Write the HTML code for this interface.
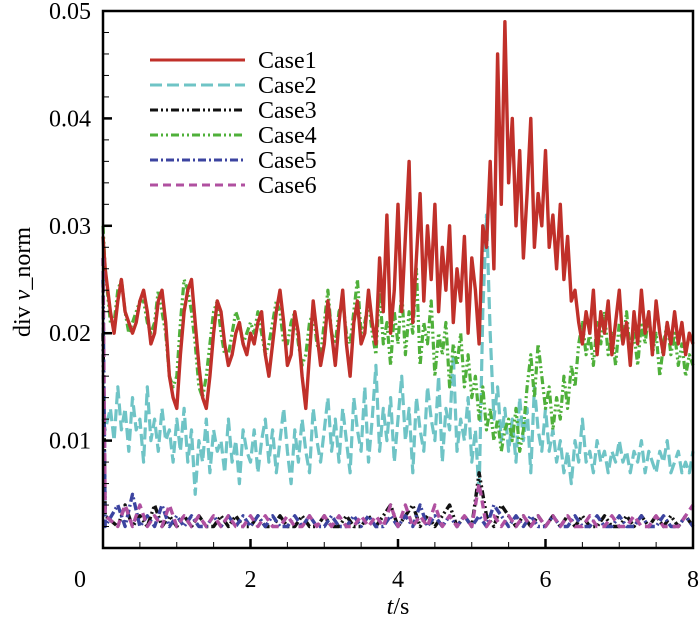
<!DOCTYPE html>
<html><head><meta charset="utf-8"><style>
html,body{margin:0;padding:0;background:#fff;}
svg text{font-family:"Liberation Serif","Times New Roman","DejaVu Serif",serif !important;}
</style></head><body>
<svg id="chart" width="700" height="621" font-family="'Liberation Serif', 'Times New Roman', serif">
<g id="series"></g>
<g id="axes"></g>
<g id="legend"></g>
</svg>
<script>
const xTicks=[0,2,4,6,8];
const yTicks=[0.01,0.02,0.03,0.04,0.05];
const yTickLabels=["0.01","0.02","0.03","0.04","0.05"];
const seriesNames=["Case1","Case2","Case3","Case4","Case5","Case6"];
const case1=[0.029,0.026,0.022,0.020,0.023,0.025,0.022,0.021,0.020,0.021,0.023,0.024,0.022,0.019,0.020,0.023,0.024,0.021,0.016,0.014,
0.013,0.018,0.022,0.024,0.025,0.021,0.017,0.014,0.013,0.016,0.020,0.023,0.022,0.019,0.017,0.018,0.020,0.021,0.019,0.018,
0.020,0.019,0.021,0.022,0.018,0.016,0.019,0.022,0.024,0.021,0.017,0.018,0.022,0.020,0.016,0.013,0.018,0.023,0.020,0.017,
0.019,0.023,0.020,0.017,0.021,0.024,0.019,0.016,0.021,0.023,0.019,0.020,0.024,0.021,0.019,0.027,0.022,0.031,0.020,0.024,
0.032,0.022,0.029,0.036,0.021,0.027,0.033,0.023,0.030,0.025,0.032,0.022,0.028,0.024,0.030,0.021,0.026,0.023,0.029,0.020,
0.027,0.024,0.019,0.030,0.028,0.036,0.026,0.046,0.032,0.049,0.034,0.040,0.030,0.037,0.027,0.033,0.040,0.028,0.033,0.030,
0.037,0.028,0.031,0.026,0.032,0.025,0.029,0.023,0.024,0.021,0.019,0.022,0.020,0.024,0.018,0.022,0.020,0.023,0.018,0.021,
0.024,0.019,0.021,0.017,0.022,0.019,0.024,0.020,0.022,0.018,0.023,0.020,0.018,0.021,0.019,0.022,0.019,0.021,0.018,0.020,0.019];
const case2=[0.012,0.011,0.013,0.010,0.015,0.011,0.013,0.009,0.014,0.011,0.012,0.008,0.015,0.010,0.012,0.009,0.013,0.010,0.011,0.008,
0.012,0.009,0.013,0.008,0.011,0.005,0.010,0.008,0.012,0.007,0.011,0.009,0.010,0.007,0.012,0.008,0.010,0.006,0.011,0.009,
0.008,0.011,0.007,0.010,0.012,0.008,0.011,0.007,0.010,0.013,0.009,0.006,0.011,0.008,0.012,0.009,0.007,0.013,0.010,0.008,
0.011,0.014,0.009,0.012,0.008,0.013,0.010,0.007,0.014,0.011,0.009,0.015,0.008,0.012,0.017,0.009,0.013,0.010,0.014,0.008,
0.012,0.016,0.010,0.013,0.007,0.014,0.011,0.009,0.015,0.012,0.010,0.016,0.008,0.013,0.011,0.018,0.009,0.012,0.010,0.014,
0.008,0.011,0.005,0.022,0.031,0.020,0.012,0.015,0.010,0.013,0.009,0.012,0.008,0.014,0.010,0.013,0.007,0.015,0.011,0.009,
0.013,0.009,0.011,0.008,0.010,0.007,0.009,0.006,0.010,0.008,0.012,0.008,0.009,0.007,0.010,0.008,0.009,0.007,0.009,0.008,
0.010,0.008,0.009,0.007,0.009,0.008,0.010,0.007,0.009,0.008,0.007,0.009,0.008,0.010,0.007,0.008,0.009,0.007,0.008,0.007,0.009];
const case4=[0.030,0.026,0.021,0.021,0.024,0.025,0.022,0.020,0.021,0.022,0.023,0.023,0.021,0.020,0.021,0.024,0.022,0.020,0.016,0.015,
0.016,0.021,0.025,0.024,0.022,0.019,0.015,0.014,0.016,0.019,0.022,0.023,0.020,0.018,0.018,0.020,0.022,0.021,0.019,0.020,
0.021,0.020,0.022,0.020,0.018,0.019,0.021,0.023,0.022,0.019,0.019,0.021,0.022,0.019,0.017,0.018,0.021,0.022,0.019,0.018,
0.021,0.024,0.020,0.019,0.022,0.023,0.020,0.019,0.022,0.025,0.020,0.021,0.023,0.020,0.018,0.024,0.019,0.021,0.017,0.022,
0.019,0.024,0.018,0.022,0.020,0.026,0.017,0.021,0.019,0.023,0.016,0.020,0.018,0.021,0.015,0.019,0.017,0.020,0.015,0.018,
0.014,0.016,0.012,0.015,0.011,0.013,0.010,0.012,0.009,0.011,0.012,0.010,0.013,0.009,0.011,0.015,0.018,0.014,0.019,0.016,
0.013,0.015,0.011,0.014,0.012,0.016,0.013,0.017,0.015,0.019,0.021,0.018,0.020,0.017,0.021,0.019,0.022,0.018,0.020,0.017,
0.021,0.019,0.022,0.018,0.020,0.017,0.021,0.019,0.022,0.018,0.020,0.016,0.019,0.021,0.018,0.020,0.017,0.019,0.016,0.018,0.017];
const case3=[0.020,0.003,0.002,0.004,0.002,0.003,0.002,0.004,0.002,0.003,
0.002,0.003,0.002,0.003,0.002,0.002,0.003,0.002,0.003,0.002,
0.002,0.003,0.002,0.002,0.003,0.002,0.002,0.003,0.002,0.002,
0.003,0.002,0.002,0.003,0.002,0.002,0.003,0.002,0.003,0.004,
0.002,0.003,0.004,0.002,0.003,0.002,0.003,0.004,0.002,0.003,
0.002,0.007,0.003,0.002,0.004,0.003,0.002,0.003,0.002,0.003,
0.002,0.003,0.002,0.003,0.002,0.003,0.002,0.002,0.003,0.002,
0.002,0.003,0.002,0.003,0.002,0.003,0.002,0.003,0.002,0.003,0.002];
const case5=[0.025,0.002,0.004,0.002,0.005,0.002,0.003,0.002,0.004,0.002,
0.003,0.002,0.003,0.002,0.002,0.003,0.002,0.003,0.002,0.003,
0.002,0.003,0.002,0.003,0.002,0.002,0.003,0.002,0.003,0.002,
0.002,0.003,0.002,0.002,0.003,0.002,0.003,0.002,0.002,0.003,
0.002,0.003,0.002,0.004,0.002,0.003,0.002,0.003,0.002,0.003,
0.002,0.003,0.002,0.004,0.003,0.002,0.003,0.002,0.003,0.002,
0.002,0.003,0.002,0.002,0.003,0.002,0.002,0.003,0.002,0.002,
0.003,0.002,0.002,0.003,0.002,0.002,0.003,0.002,0.002,0.003,0.002];
const case6=[0.027,0.003,0.002,0.004,0.002,0.004,0.002,0.003,0.002,0.004,
0.002,0.003,0.002,0.003,0.002,0.003,0.002,0.003,0.002,0.002,
0.003,0.002,0.003,0.002,0.002,0.003,0.002,0.002,0.003,0.002,
0.003,0.002,0.003,0.002,0.002,0.003,0.002,0.003,0.002,0.004,
0.002,0.004,0.002,0.003,0.002,0.004,0.002,0.003,0.002,0.003,
0.002,0.006,0.002,0.003,0.002,0.003,0.002,0.003,0.002,0.003,
0.002,0.003,0.002,0.003,0.002,0.002,0.003,0.002,0.002,0.003,
0.002,0.002,0.003,0.002,0.002,0.003,0.002,0.002,0.002,0.003,0.004];

const NS="http://www.w3.org/2000/svg";
const FONT="'Liberation Serif','Times New Roman','DejaVu Serif',serif";
const L=103,R=693,T=11,B=548,XMAX=8,YMAX=0.05;
function xs(t){return L+(R-L)*t/XMAX;}
function ys(v){return B-(B-T)*v/YMAX;}
function mk(tag,attrs,parent){const e=document.createElementNS(NS,tag);for(const k in attrs)e.setAttribute(k,attrs[k]);parent.appendChild(e);return e;}

const styles=[
 {data:case2,color:"#6fc4c6",dash:"12,5",w:3.2,name:"Case2"},
 {data:case4,color:"#4fb03a",dash:"8,3,2,3,2,3",w:3.2,name:"Case4"},
 {data:case1,color:"#c0302a",dash:"",w:3.4,name:"Case1"},
 {data:case3,color:"#111111",dash:"8,3,2,3,2,3",w:3.4,name:"Case3"},
 {data:case5,color:"#3c44a0",dash:"8,3,2,3",w:3.4,name:"Case5"},
 {data:case6,color:"#b050a0",dash:"8,5",w:3.4,name:"Case6"}
];
const sg=document.getElementById('series');
styles.forEach(s=>{
  const n=s.data.length, dt=XMAX/(n-1);
  const pts=s.data.map((v,i)=>xs(i===0?0:(i===1?0.03:i*dt)).toFixed(1)+","+ys(v).toFixed(1)).join(" ");
  const p=mk('polyline',{points:pts,fill:"none",stroke:s.color,"stroke-width":s.w,"stroke-dasharray":s.dash,"stroke-linejoin":"round"},sg);
  
  
});

const ax=document.getElementById('axes');
const fr=mk('rect',{x:L,y:T,width:R-L,height:B-T,fill:"none",stroke:"#000","stroke-width":2.5},ax);


for(let v=0.002;v<YMAX-1e-9;v+=0.002){
  const major=Math.abs(v*100-Math.round(v*100))<1e-6;
  const tk=mk('line',{x1:L,x2:L+(major?9:6),y1:ys(v),y2:ys(v),stroke:"#000","stroke-width":major?2.5:1},ax);
  
  
}
for(let t=0.5;t<XMAX;t+=0.5){
  const major=Math.abs(t/2-Math.round(t/2))<1e-6;
  const tk=mk('line',{x1:xs(t),x2:xs(t),y1:B,y2:B-(major?9:6),stroke:"#000","stroke-width":major?2.5:1},ax);
  
  
}
yTicks.forEach((v,i)=>{
  const tx=mk('text',{x:91,y:ys(v)+8,"text-anchor":"end","font-size":24,"font-family":FONT},ax);
  tx.textContent=yTickLabels[i];
  
  
});
xTicks.forEach(t=>{
  const tx=mk('text',{x:t===0?80:xs(t),y:587,"text-anchor":"middle","font-size":24,"font-family":FONT},ax);
  tx.textContent=String(t);
  
  
});
const xt=mk('text',{x:398,y:614,"text-anchor":"middle","font-size":24,"font-family":FONT},ax);
xt.innerHTML='<tspan font-style="italic">t</tspan>/s';


const yt=mk('text',{x:0,y:0,"text-anchor":"middle","font-size":24,"font-family":FONT,transform:"translate(30,282) rotate(-90)"},ax);
yt.innerHTML='div <tspan font-style="italic">v</tspan>_norm';



const lg=document.getElementById('legend');
const legendStyles={Case1:styles[2],Case2:styles[0],Case3:styles[3],Case4:styles[1],Case5:styles[4],Case6:styles[5]};
seriesNames.forEach((nm,i)=>{
  const s=legendStyles[nm], y=60+i*25;
  const g=mk('g',{},lg);
  
  
  mk('line',{x1:150,x2:245,y1:y,y2:y,stroke:s.color,"stroke-width":3,"stroke-dasharray":s.dash},g);
  const tx=mk('text',{x:258,y:y+8,"font-size":24,"font-family":FONT},g);
  tx.textContent=nm;
});
</script>
</body></html>
